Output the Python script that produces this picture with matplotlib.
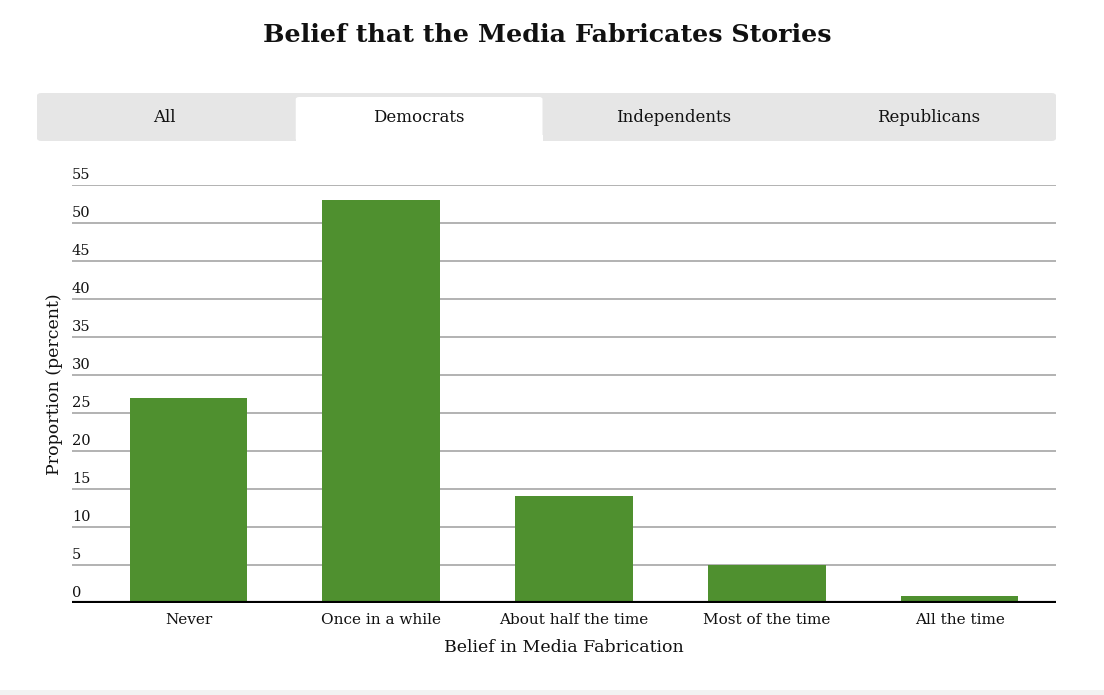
import matplotlib.pyplot as plt
from matplotlib.patches import FancyBboxPatch, Rectangle

# data
categories = ['Never', 'Once in a while', 'About half the time', 'Most of the time', 'All the time']
proportions = [27.0, 53.0, 14.1, 5.0, 0.9]
y_ticks = [0, 5, 10, 15, 20, 25, 30, 35, 40, 45, 50, 55]
tabs = ['All', 'Democrats', 'Independents', 'Republicans']
active_tab = 'Democrats'

serif = ['DejaVu Serif']
bar_color = '#4f902f'

fig = plt.figure(figsize=(11.04, 6.95), dpi=100)
W, H = 1104, 695

def px(x, y):
    # pixel coords (top-left origin) -> figure fraction
    return x / W, 1 - y / H

# title
fig.text(*px(547, 35), 'Belief that the Media Fabricates Stories', ha='center', va='center',
         fontsize=18.3, fontweight='bold', family=serif, color='#111111')

# tab strip
x0, y0 = px(37, 141)
strip = FancyBboxPatch((x0, y0), (1056 - 37) / W, 48 / H, boxstyle='round,pad=0,rounding_size=0.004',
                       transform=fig.transFigure, facecolor='#e6e6e6', edgecolor='none')
fig.patches.append(strip)
tab_w = (1056 - 37) / len(tabs)
for i, name in enumerate(tabs):
    cx = 37 + tab_w * (i + 0.5)
    if name == active_tab:
        ax0, ay0 = px(37 + tab_w * i + 4, 141)
        fig.patches.append(FancyBboxPatch((ax0, ay0), (tab_w - 8) / W, 44 / H,
                                          boxstyle='round,pad=0,rounding_size=0.003',
                                          transform=fig.transFigure, facecolor='white', edgecolor='none'))
        fig.patches.append(Rectangle((ax0, ay0), (tab_w - 8) / W, 6 / H, transform=fig.transFigure,
                                     facecolor='white', edgecolor='none'))
    fig.text(*px(cx, 117), name, ha='center', va='center', fontsize=12, family=serif, color='#111111')

# chart
ax = fig.add_axes([72 / W, 1 - 603 / H, (1056 - 72) / W, (603 - 185) / H])
x = list(range(len(categories)))
ax.bar(x, proportions, width=0.61, color=bar_color, zorder=3)
ax.set_xlim(-0.5 - 20 / 193, 4.5)
ax.set_ylim(0, 55)

for v in y_ticks[1:]:
    ax.axhline(v, color='#a6a6a6', linewidth=1.2, zorder=1)
ax.axhline(0, color='black', linewidth=3, zorder=4)
for v in y_ticks:
    ax.annotate(str(v), xy=(0, v), xycoords=('axes fraction', 'data'), xytext=(0, 2),
                textcoords='offset points', ha='left', va='bottom', fontsize=10.5,
                family=serif, color='#111111')

for s in ax.spines.values():
    s.set_visible(False)
ax.set_yticks([])
ax.set_xticks(x)
ax.set_xticklabels(categories, fontsize=11, family=serif, color='#111111')
ax.tick_params(axis='x', length=0, pad=7)
ax.set_xlabel('Belief in Media Fabrication', fontsize=12.5, family=serif, color='#111111', labelpad=9)

fig.text(*px(55, 384), 'Proportion (percent)', rotation=90, ha='center', va='center',
         fontsize=12.5, family=serif, color='#111111')

# faint bottom border
fig.patches.append(Rectangle((0, 0), 1, 5 / H, transform=fig.transFigure,
                             facecolor='#f2f2f2', edgecolor='none'))

fig.savefig('out.png', dpi=100)
